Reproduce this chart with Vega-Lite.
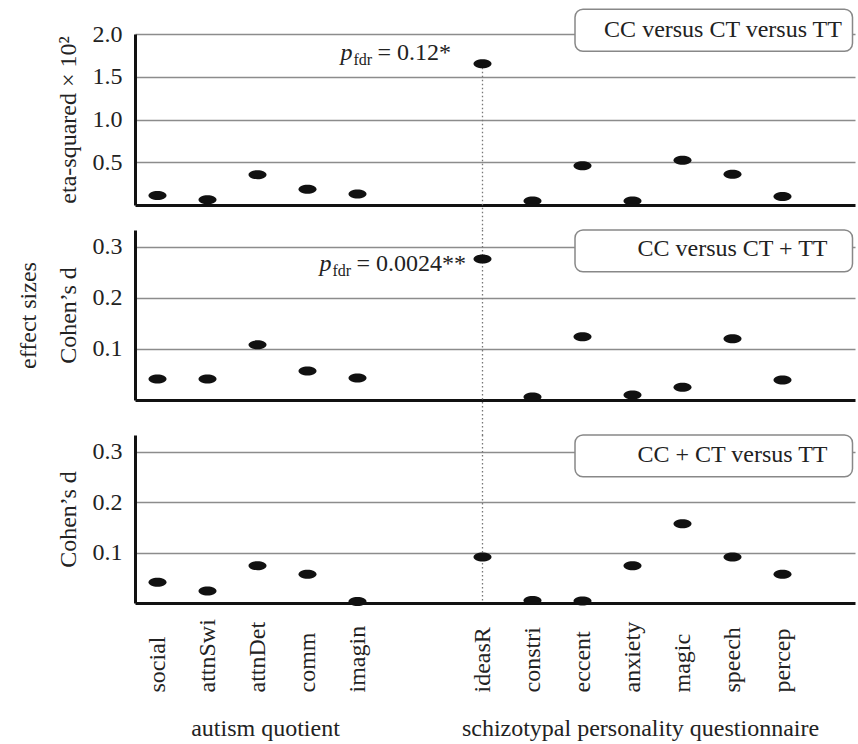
{
  "$schema": "https://vega.github.io/schema/vega-lite/v6.json",
  "background": "white",
  "padding": {"left": 16, "top": 8, "right": 2, "bottom": 2},
  "data": {
    "values": [
      {"test": "CC versus CT versus TT", "item": "social", "value": 0.11},
      {"test": "CC versus CT versus TT", "item": "attnSwi", "value": 0.06},
      {"test": "CC versus CT versus TT", "item": "attnDet", "value": 0.355},
      {"test": "CC versus CT versus TT", "item": "comm", "value": 0.185},
      {"test": "CC versus CT versus TT", "item": "imagin", "value": 0.13},
      {"test": "CC versus CT versus TT", "item": "ideasR", "value": 1.653, "pfdr": "= 0.12*"},
      {"test": "CC versus CT versus TT", "item": "constri", "value": 0.047},
      {"test": "CC versus CT versus TT", "item": "eccent", "value": 0.46},
      {"test": "CC versus CT versus TT", "item": "anxiety", "value": 0.047},
      {"test": "CC versus CT versus TT", "item": "magic", "value": 0.523},
      {"test": "CC versus CT versus TT", "item": "speech", "value": 0.36},
      {"test": "CC versus CT versus TT", "item": "percep", "value": 0.1},
      {"test": "CC versus CT + TT", "item": "social", "value": 0.041},
      {"test": "CC versus CT + TT", "item": "attnSwi", "value": 0.041},
      {"test": "CC versus CT + TT", "item": "attnDet", "value": 0.108},
      {"test": "CC versus CT + TT", "item": "comm", "value": 0.057},
      {"test": "CC versus CT + TT", "item": "imagin", "value": 0.043},
      {"test": "CC versus CT + TT", "item": "ideasR", "value": 0.276, "pfdr": "= 0.0024**"},
      {"test": "CC versus CT + TT", "item": "constri", "value": 0.006},
      {"test": "CC versus CT + TT", "item": "eccent", "value": 0.124},
      {"test": "CC versus CT + TT", "item": "anxiety", "value": 0.01},
      {"test": "CC versus CT + TT", "item": "magic", "value": 0.025},
      {"test": "CC versus CT + TT", "item": "speech", "value": 0.12},
      {"test": "CC versus CT + TT", "item": "percep", "value": 0.039},
      {"test": "CC + CT versus TT", "item": "social", "value": 0.041},
      {"test": "CC + CT versus TT", "item": "attnSwi", "value": 0.024},
      {"test": "CC + CT versus TT", "item": "attnDet", "value": 0.074},
      {"test": "CC + CT versus TT", "item": "comm", "value": 0.057},
      {"test": "CC + CT versus TT", "item": "imagin", "value": 0.003},
      {"test": "CC + CT versus TT", "item": "ideasR", "value": 0.091},
      {"test": "CC + CT versus TT", "item": "constri", "value": 0.005},
      {"test": "CC + CT versus TT", "item": "eccent", "value": 0.004},
      {"test": "CC + CT versus TT", "item": "anxiety", "value": 0.074},
      {"test": "CC + CT versus TT", "item": "magic", "value": 0.157},
      {"test": "CC + CT versus TT", "item": "speech", "value": 0.091},
      {"test": "CC + CT versus TT", "item": "percep", "value": 0.057}
    ]
  },
  "bounds": "flush",
  "spacing": 25,
  "vconcat": [
    {
      "width": 720,
      "height": 171,
      "layer": [
        {
          "transform": [{"filter": "datum.test === 'CC versus CT versus TT' && datum.item === 'ideasR'"}],
          "mark": {"type": "rule", "color": "#777", "strokeDash": [1.5, 2.5], "strokeWidth": 1.3},
          "encoding": {
            "x": {"field": "item", "type": "nominal",
              "scale": {"type": "point", "padding": 0.9, "domain": ["social","_1","attnSwi","_3","attnDet","_5","comm","_7","imagin","_9","_10","_11","_12","ideasR","_14","constri","_16","eccent","_18","anxiety","_20","magic","_22","speech","_24","percep","_26","_27"]},
              "axis": {"labels": false, "ticks": false, "title": null, "grid": false, "domain": true}},
            "y": {"field": "value", "type": "quantitative",
              "scale": {"domain": [0, 2], "nice": false, "zero": true},
              "axis": {"values": [0.5, 1, 1.5, 2], "format": ".1f", "title": "eta-squared × 10²"}},
            "y2": {"datum": -0.3}
          }
        },
        {
          "transform": [{"filter": "datum.test === 'CC versus CT versus TT'"}],
          "mark": {"type": "point", "shape": "M -1 0 A 1 0.5 0 1 0 1 0 A 1 0.5 0 1 0 -1 0 Z", "filled": true, "color": "#111", "opacity": 1, "size": 324},
          "encoding": {
            "x": {"field": "item", "type": "nominal"},
            "y": {"field": "value", "type": "quantitative"}
          }
        },
        {
          "data": {"values": [{"label": "CC versus CT versus TT"}]},
          "mark": {"type": "rect", "fill": "white", "stroke": "#888", "strokeWidth": 1.5, "cornerRadius": 8, "xOffset": -7.5, "x2Offset": 20},
          "encoding": {
            "x": {"datum": "eccent"},
            "x2": {"datum": "_27"},
            "y": {"datum": 2.29},
            "y2": {"datum": 1.797}
          }
        },
        {
          "data": {"values": [{"label": "CC versus CT versus TT"}]},
          "mark": {"type": "text", "fontSize": 24, "dx": -9.5, "baseline": "middle", "align": "center"},
          "encoding": {
            "x": {"datum": "speech"},
            "y": {"datum": 2.043},
            "text": {"field": "label"}
          }
        },
        {
          "transform": [{"filter": "datum.test === 'CC versus CT versus TT' && datum.item === 'ideasR'"}],
          "mark": {"type": "text", "fontSize": 24, "fontStyle": "italic", "align": "left", "baseline": "alphabetic", "dx": -142, "dy": -4},
          "encoding": {"x": {"field": "item", "type": "nominal"}, "y": {"field": "value", "type": "quantitative"}, "text": {"value": "p"}}
        },
        {
          "transform": [{"filter": "datum.test === 'CC versus CT versus TT' && datum.item === 'ideasR'"}],
          "mark": {"type": "text", "fontSize": 16, "align": "left", "baseline": "alphabetic", "dx": -129, "dy": 1},
          "encoding": {"x": {"field": "item", "type": "nominal"}, "y": {"field": "value", "type": "quantitative"}, "text": {"value": "fdr"}}
        },
        {
          "transform": [{"filter": "datum.test === 'CC versus CT versus TT' && datum.item === 'ideasR'"}],
          "mark": {"type": "text", "fontSize": 24, "align": "left", "baseline": "alphabetic", "dx": -105, "dy": -4},
          "encoding": {"x": {"field": "item", "type": "nominal"}, "y": {"field": "value", "type": "quantitative"}, "text": {"field": "pfdr"}}
        }
      ]
    },
    {
      "bounds": "flush",
      "spacing": 35,
      "vconcat": [
        {
          "width": 720,
          "height": 170,
          "layer": [
            {
              "transform": [{"filter": "datum.test === 'CC versus CT + TT' && datum.item === 'ideasR'"}],
              "mark": {"type": "rule", "color": "#777", "strokeDash": [1.5, 2.5], "strokeWidth": 1.3},
              "encoding": {
                "x": {"field": "item", "type": "nominal",
                  "scale": {"type": "point", "padding": 0.9, "domain": ["social","_1","attnSwi","_3","attnDet","_5","comm","_7","imagin","_9","_10","_11","_12","ideasR","_14","constri","_16","eccent","_18","anxiety","_20","magic","_22","speech","_24","percep","_26","_27"]},
                  "axis": {"labels": false, "ticks": false, "title": null, "grid": false, "domain": true}},
                "y": {"datum": 0.333, "type": "quantitative",
                  "scale": {"domain": [0, 0.333], "nice": false, "zero": true},
                  "axis": {"values": [0.1, 0.2, 0.3], "format": ".1f", "title": ["effect sizes", "Cohen’s d"]}},
                "y2": {"datum": -0.07}
              }
            },
            {
              "transform": [{"filter": "datum.test === 'CC versus CT + TT'"}],
              "mark": {"type": "point", "shape": "M -1 0 A 1 0.5 0 1 0 1 0 A 1 0.5 0 1 0 -1 0 Z", "filled": true, "color": "#111", "opacity": 1, "size": 324},
              "encoding": {
                "x": {"field": "item", "type": "nominal"},
                "y": {"field": "value", "type": "quantitative"}
              }
            },
            {
              "data": {"values": [{"label": "CC versus CT + TT"}]},
              "mark": {"type": "rect", "fill": "white", "stroke": "#888", "strokeWidth": 1.5, "cornerRadius": 8, "xOffset": -7.5, "x2Offset": 20},
              "encoding": {
                "x": {"datum": "eccent"},
                "x2": {"datum": "_27"},
                "y": {"datum": 0.333},
                "y2": {"datum": 0.251}
              }
            },
            {
              "data": {"values": [{"label": "CC versus CT + TT"}]},
              "mark": {"type": "text", "fontSize": 24, "baseline": "middle", "align": "center"},
              "encoding": {
                "x": {"datum": "speech"},
                "y": {"datum": 0.296},
                "text": {"field": "label"}
              }
            },
            {
              "transform": [{"filter": "datum.test === 'CC versus CT + TT' && datum.item === 'ideasR'"}],
              "mark": {"type": "text", "fontSize": 24, "fontStyle": "italic", "align": "left", "baseline": "alphabetic", "dx": -163, "dy": 12},
              "encoding": {"x": {"field": "item", "type": "nominal"}, "y": {"field": "value", "type": "quantitative"}, "text": {"value": "p"}}
            },
            {
              "transform": [{"filter": "datum.test === 'CC versus CT + TT' && datum.item === 'ideasR'"}],
              "mark": {"type": "text", "fontSize": 16, "align": "left", "baseline": "alphabetic", "dx": -150, "dy": 17},
              "encoding": {"x": {"field": "item", "type": "nominal"}, "y": {"field": "value", "type": "quantitative"}, "text": {"value": "fdr"}}
            },
            {
              "transform": [{"filter": "datum.test === 'CC versus CT + TT' && datum.item === 'ideasR'"}],
              "mark": {"type": "text", "fontSize": 24, "align": "left", "baseline": "alphabetic", "dx": -126, "dy": 12},
              "encoding": {"x": {"field": "item", "type": "nominal"}, "y": {"field": "value", "type": "quantitative"}, "text": {"field": "pfdr"}}
            }
          ]
        },
        {
          "width": 720,
          "height": 168,
          "layer": [
            {
              "transform": [{"filter": "datum.test === 'CC + CT versus TT' && datum.item === 'ideasR'"}],
              "mark": {"type": "rule", "color": "#777", "strokeDash": [1.5, 2.5], "strokeWidth": 1.3},
              "encoding": {
                "x": {"field": "item", "type": "nominal",
                  "scale": {"type": "point", "padding": 0.9, "domain": ["social","_1","attnSwi","_3","attnDet","_5","comm","_7","imagin","_9","_10","_11","_12","ideasR","_14","constri","_16","eccent","_18","anxiety","_20","magic","_22","speech","_24","percep","_26","_27"]},
                  "axis": {"values": ["social","attnSwi","attnDet","comm","imagin","ideasR","constri","eccent","anxiety","magic","speech","percep"],
                    "labelAngle": -90, "labelAlign": "left", "labelBaseline": "middle", "labelPadding": 89, "labelFontSize": 24,
                    "ticks": false, "title": null, "grid": false, "domain": true}},
                "y": {"datum": 0.333, "type": "quantitative",
                  "scale": {"domain": [0, 0.333], "nice": false, "zero": true},
                  "axis": {"values": [0.1, 0.2, 0.3], "format": ".1f", "title": "Cohen’s d"}},
                "y2": {"datum": 0}
              }
            },
            {
              "transform": [{"filter": "datum.test === 'CC + CT versus TT'"}],
              "mark": {"type": "point", "shape": "M -1 0 A 1 0.5 0 1 0 1 0 A 1 0.5 0 1 0 -1 0 Z", "filled": true, "color": "#111", "opacity": 1, "size": 324},
              "encoding": {
                "x": {"field": "item", "type": "nominal"},
                "y": {"field": "value", "type": "quantitative"}
              }
            },
            {
              "data": {"values": [{"label": "CC + CT versus TT"}]},
              "mark": {"type": "rect", "fill": "white", "stroke": "#888", "strokeWidth": 1.5, "cornerRadius": 8, "xOffset": -7.5, "x2Offset": 20},
              "encoding": {
                "x": {"datum": "eccent"},
                "x2": {"datum": "_27"},
                "y": {"datum": 0.333},
                "y2": {"datum": 0.25}
              }
            },
            {
              "data": {"values": [{"label": "CC + CT versus TT"}]},
              "mark": {"type": "text", "fontSize": 24, "baseline": "middle", "align": "center"},
              "encoding": {
                "x": {"datum": "speech"},
                "y": {"datum": 0.294},
                "text": {"field": "label"}
              }
            },
            {
              "data": {"values": [
                {"group": "autism quotient", "at": "attnDet"},
                {"group": "schizotypal personality questionnaire", "at": "anxiety"}
              ]},
              "mark": {"type": "text", "fontSize": 24, "baseline": "middle", "align": "center", "dx": 8},
              "encoding": {
                "x": {"field": "at", "type": "nominal"},
                "y": {"datum": -0.25},
                "text": {"field": "group"}
              }
            }
          ]
        }
      ]
    }
  ],
  "config": {
    "font": "'Liberation Serif', 'Times New Roman', serif",
    "view": {"stroke": null},
    "text": {"font": "'Liberation Serif', 'Times New Roman', serif", "color": "#222"},
    "axis": {
      "labelFont": "'Liberation Serif', 'Times New Roman', serif",
      "labelFontSize": 24,
      "labelColor": "#222",
      "titleFont": "'Liberation Serif', 'Times New Roman', serif",
      "titleFontSize": 24,
      "titleFontWeight": "normal",
      "titleColor": "#222",
      "domainColor": "#111",
      "domainWidth": 3,
      "ticks": false,
      "gridColor": "#8c8c8c",
      "gridWidth": 1.5,
      "gridOpacity": 1
    },
    "axisY": {
      "grid": true,
      "labelPadding": 13,
      "titlePadding": 12,
      "titleLineHeight": 40
    },
    "axisX": {"grid": false}
  }
}
